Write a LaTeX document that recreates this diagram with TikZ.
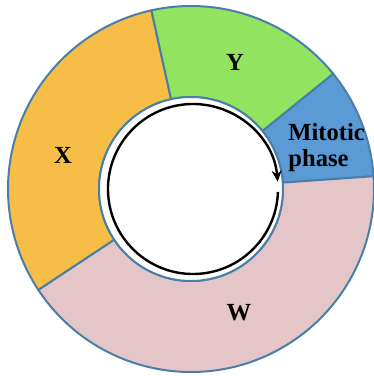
\documentclass[tikz,border=0pt]{standalone}
\usepackage{fontspec}
\setmainfont{Liberation Serif}
\usepackage{xcolor}
\usetikzlibrary{arrows.meta}
\definecolor{ringline}{HTML}{4A7EA8}
\definecolor{phaseX}{HTML}{F7BE47}
\definecolor{phaseY}{HTML}{92E35F}
\definecolor{phaseM}{HTML}{5B9BD5}
\definecolor{phaseW}{HTML}{E5C6C8}
\tikzset{
  ring/.style={draw=ringline, line width=1pt},
  lbl/.style={font=\fontsize{12.3}{13}\selectfont\bfseries, align=left,
              inner sep=0pt},
  turn/.style={line width=1.2pt, -{Stealth[length=5.5pt, width=5pt]}},
}
% one coloured part of the ring, from angle #2 to angle #3
\newcommand{\ringpart}[3]{%
  \filldraw[ring, fill=#1] ([shift={(#2:183)}]c)
    arc[start angle=#2, end angle=#3, radius=183]
    -- ([shift={(#3:92)}]c) arc[start angle=#3, end angle=#2, radius=92]
    -- cycle;}

\begin{document}
\begin{tikzpicture}[x=0.5pt, y=0.5pt]
  \useasboundingbox (0,0) rectangle (374,376);
  \coordinate (c) at (191,187);
  \coordinate (a) at (193,187);
  \ringpart{phaseX}{102.5}{213.5}
  \ringpart{phaseY}{39}{102.5}
  \ringpart{phaseM}{4}{39}
  \ringpart{phaseW}{213.5}{364}
  \filldraw[ring, fill=white] (c) circle[radius=92];
  \draw[turn] ([shift={(-2:85)}]a) arc[start angle=-2, end angle=-355, radius=85];
  \node[lbl] (y) at (235,314) {Y};
  \node[lbl] (x) at (63,221) {X};
  \node[lbl, anchor=west] (m) at (288,228) {Mitotic\\phase};
  \node[lbl] (w) at (239,63) {W};
\end{tikzpicture}
\end{document}
